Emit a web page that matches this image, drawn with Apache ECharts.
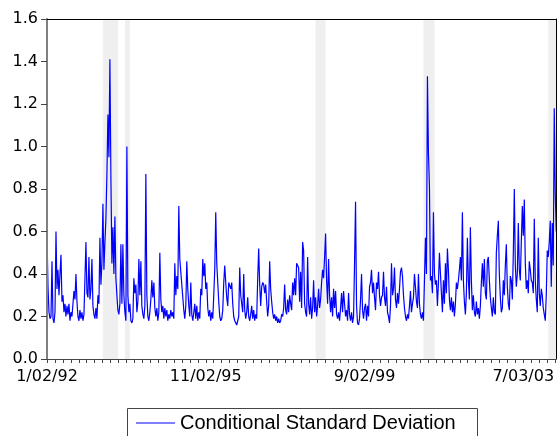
<!DOCTYPE html>
<html>
<head>
<meta charset="utf-8">
<script src="https://cdn.jsdelivr.net/npm/echarts@6/dist/echarts.min.js"></script>
<style>
  html, body { margin: 0; padding: 0; background: #fff; }
  #main { width: 558px; height: 436px; }
</style>
</head>
<body>
<div id="main"></div>
<script>
// conditional standard deviation, one reading per ~6.29 daily observations
var sdPart1 = [
  0.58, 0.34, 0.22, 0.19, 0.2, 0.46, 0.19, 0.17, 0.22, 0.6,
  0.33, 0.42, 0.3, 0.4, 0.49, 0.27, 0.3, 0.22, 0.26, 0.2,
  0.25, 0.21, 0.26, 0.18, 0.22, 0.2, 0.26, 0.32, 0.28, 0.4,
  0.27, 0.2, 0.18, 0.23, 0.19, 0.22, 0.18, 0.21, 0.38, 0.55,
  0.31, 0.29, 0.48, 0.28, 0.33, 0.47, 0.25, 0.21, 0.19, 0.24,
  0.19, 0.3, 0.26, 0.57, 0.35, 0.45, 0.73, 0.42, 0.55, 0.66,
  0.87, 1.15, 0.95, 1.41, 0.85, 0.45, 0.62, 0.4, 0.67, 0.38,
  0.3, 0.23, 0.21, 0.26, 0.54, 0.26, 0.54, 0.3, 0.22, 0.18,
  1.0, 0.3, 0.22, 0.26, 0.18, 0.17, 0.19, 0.38, 0.31, 0.35,
  0.22, 0.27, 0.47, 0.3, 0.46, 0.25, 0.21, 0.19, 0.25, 0.87,
  0.3, 0.2, 0.18, 0.22, 0.28, 0.37, 0.29, 0.36, 0.24, 0.2,
  0.24, 0.18, 0.22, 0.5, 0.28, 0.22, 0.25, 0.19, 0.24, 0.2,
  0.23, 0.18, 0.21, 0.19, 0.23, 0.2, 0.22, 0.19, 0.45
];
var sdPart2 = [
  0.3, 0.39, 0.33, 0.72, 0.47, 0.41, 0.35, 0.29, 0.23, 0.19,
  0.25, 0.46, 0.33, 0.25, 0.2, 0.36, 0.21, 0.18, 0.22, 0.26,
  0.19, 0.25, 0.18, 0.22, 0.19, 0.33, 0.3, 0.47, 0.39, 0.45,
  0.33, 0.36, 0.24, 0.2, 0.23, 0.18, 0.22, 0.19, 0.3, 0.42,
  0.69, 0.45, 0.36, 0.27, 0.2, 0.18, 0.19, 0.23, 0.36, 0.44,
  0.36, 0.29, 0.25, 0.36, 0.36, 0.33, 0.36, 0.26, 0.2, 0.18,
  0.17, 0.16, 0.18, 0.2, 0.43, 0.3, 0.26, 0.22, 0.4, 0.23,
  0.19, 0.22, 0.29, 0.2, 0.18, 0.21, 0.25, 0.19, 0.23, 0.18,
  0.21, 0.19, 0.38, 0.52, 0.35, 0.25, 0.34, 0.36, 0.35, 0.31,
  0.35, 0.27, 0.2, 0.25, 0.46, 0.33, 0.27, 0.22, 0.19, 0.21,
  0.18, 0.2, 0.17, 0.19, 0.17, 0.18, 0.21, 0.2, 0.24, 0.35,
  0.23, 0.21, 0.28, 0.22, 0.3, 0.26, 0.23, 0.36, 0.3, 0.38,
  0.3, 0.45, 0.44, 0.43
];
var sdPart3 = [
  0.27, 0.41, 0.24, 0.55, 0.51, 0.26, 0.22, 0.2, 0.48, 0.26,
  0.21, 0.29, 0.19, 0.24, 0.37, 0.22, 0.29, 0.2, 0.25, 0.33,
  0.24, 0.28, 0.36, 0.42, 0.38, 0.48, 0.59, 0.37, 0.26, 0.47,
  0.3, 0.22, 0.29, 0.2, 0.33, 0.24, 0.32, 0.21, 0.19, 0.22,
  0.18, 0.24, 0.31, 0.22, 0.32, 0.26, 0.2, 0.23, 0.18, 0.31,
  0.21, 0.18, 0.22, 0.17, 0.2, 0.45, 0.74, 0.25, 0.17, 0.16,
  0.19, 0.28, 0.4, 0.23, 0.19, 0.24, 0.26, 0.18, 0.25, 0.2,
  0.34, 0.36, 0.42, 0.31, 0.36, 0.29, 0.23, 0.36, 0.33, 0.41,
  0.3, 0.25, 0.29, 0.3, 0.41, 0.29, 0.25, 0.34, 0.22, 0.2,
  0.17, 0.25, 0.45, 0.3, 0.33, 0.43, 0.28, 0.24, 0.31, 0.26,
  0.33, 0.41, 0.43, 0.39, 0.3, 0.24, 0.2, 0.18, 0.21, 0.19,
  0.25, 0.32, 0.22, 0.26, 0.29, 0.4, 0.34, 0.27, 0.24, 0.4,
  0.26, 0.21, 0.19, 0.22, 0.18, 0.37
];
var sdPart4 = [
  0.57, 0.4, 1.33, 0.97, 0.81, 0.37, 0.39, 0.31, 0.69, 0.4,
  0.35, 0.37, 0.25, 0.36, 0.5, 0.5, 0.31, 0.22, 0.37, 0.26,
  0.45, 0.31, 0.52, 0.42, 0.28, 0.23, 0.29, 0.22, 0.27, 0.2,
  0.26, 0.36, 0.33, 0.37, 0.42, 0.48, 0.37, 0.69, 0.37, 0.27,
  0.21, 0.31, 0.57, 0.37, 0.28, 0.62, 0.37, 0.23, 0.3, 0.22,
  0.2, 0.27, 0.21, 0.24, 0.19, 0.25, 0.36, 0.45, 0.34, 0.47,
  0.31, 0.28, 0.46, 0.48, 0.37, 0.29, 0.24, 0.2, 0.29, 0.22,
  0.21, 0.5, 0.58, 0.65, 0.4, 0.29, 0.22, 0.24, 0.37, 0.3,
  0.44, 0.54, 0.34, 0.26, 0.23, 0.39, 0.37, 0.28, 0.5, 0.8,
  0.44, 0.34, 0.4, 0.64, 0.42, 0.37, 0.55, 0.72, 0.58, 0.75,
  0.45, 0.33, 0.37, 0.31, 0.46, 0.42, 0.37, 0.36, 0.31, 0.66,
  0.37, 0.28, 0.22, 0.57, 0.31, 0.25, 0.33, 0.3, 0.24, 0.21,
  0.18, 0.3, 0.51, 0.48, 0.55, 0.65, 0.34, 0.64, 0.44, 1.18,
  0.78, 0.6
];

var obsStep = 6.29;          // daily observations between readings
var lastObs = 3208;
var dateObs = [0, 1000, 2000, 3000];
var dateLabels = ["1/02/92", "11/02/95", "9/02/99", "7/03/03"];
// shaded periods, in observation numbers
var bandStart = [352, 491, 1692, 2371, 3158];
var bandEnd = [447, 522, 1755, 2441, 3208];

var sdValues = sdPart1.concat(sdPart2, sdPart3, sdPart4);
var points = [];
for (var i = 0; i < sdValues.length; i++) {
  points.push([i * obsStep, sdValues[i]]);
}
var bands = [];
for (var j = 0; j < bandStart.length; j++) {
  bands.push([{ xAxis: bandStart[j] }, { xAxis: bandEnd[j] }]);
}

var chart = echarts.init(document.getElementById("main"), null, { renderer: "canvas" });

var labelFont = { fontFamily: "DejaVu Sans", fontSize: 16, color: "#000" };

var option = {
  animation: false,
  backgroundColor: "#fff",
  grid: { left: 47, right: 1, top: 19, bottom: 77 },
  legend: {
    data: [{ name: "Conditional Standard Deviation", icon: "rect" }],
    left: 131,
    top: 408,
    itemWidth: 39,
    itemHeight: 1,
    textStyle: { fontFamily: "Liberation Sans", fontSize: 20, color: "#000" },
  },
  graphic: [
    {
      type: "rect",
      shape: { x: 127.5, y: 408.5, width: 350, height: 40 },
      style: { fill: "none", stroke: "#444", lineWidth: 1 },
      silent: true,
    },
  ],
  xAxis: [
    {
      type: "value",
      min: 0,
      max: lastObs,
      interval: 50,
      z: 10,
      axisLine: { onZero: false, lineStyle: { color: "#444", width: 1 } },
      axisTick: { length: 4, lineStyle: { color: "#444" } },
      splitLine: { show: false },
      axisLabel: Object.assign({
        margin: 10,
        showMaxLabel: false,
        formatter: function (v) {
          var k = dateObs.indexOf(Math.round(v));
          return k >= 0 ? dateLabels[k] : "";
        },
      }, labelFont),
    },
    {
      type: "value",
      position: "top",
      min: 0,
      max: lastObs,
      z: 10,
      axisLine: { onZero: false, lineStyle: { color: "#000", width: 1 } },
      axisTick: { show: false },
      axisLabel: { show: false },
      splitLine: { show: false },
    },
  ],
  yAxis: [
    {
      type: "value",
      min: 0,
      max: 1.6,
      interval: 0.2,
      z: 10,
      axisLine: { show: true, onZero: false, lineStyle: { color: "#808080", width: 2 } },
      axisTick: { show: true, length: 6, lineStyle: { color: "#444" } },
      splitLine: { show: false },
      axisLabel: Object.assign({
        margin: 9,
        formatter: function (v) { return v.toFixed(1); },
      }, labelFont),
    },
    {
      type: "value",
      position: "right",
      min: 0,
      max: 1.6,
      z: 10,
      axisLine: { show: true, onZero: false, lineStyle: { color: "#000", width: 1 } },
      axisTick: { show: false },
      axisLabel: { show: false },
      splitLine: { show: false },
    },
  ],
  series: [
    {
      name: "Conditional Standard Deviation",
      type: "line",
      xAxisIndex: 0,
      yAxisIndex: 0,
      data: points,
      symbol: "none",
      showSymbol: false,
      lineStyle: { color: "#0000ff", width: 1.2 },
      itemStyle: { color: "#0000ff" },
      markArea: {
        silent: true,
        itemStyle: { color: "#efefef" },
        data: bands,
      },
    },
  ],
};

chart.setOption(option);
</script>
</body>
</html>
